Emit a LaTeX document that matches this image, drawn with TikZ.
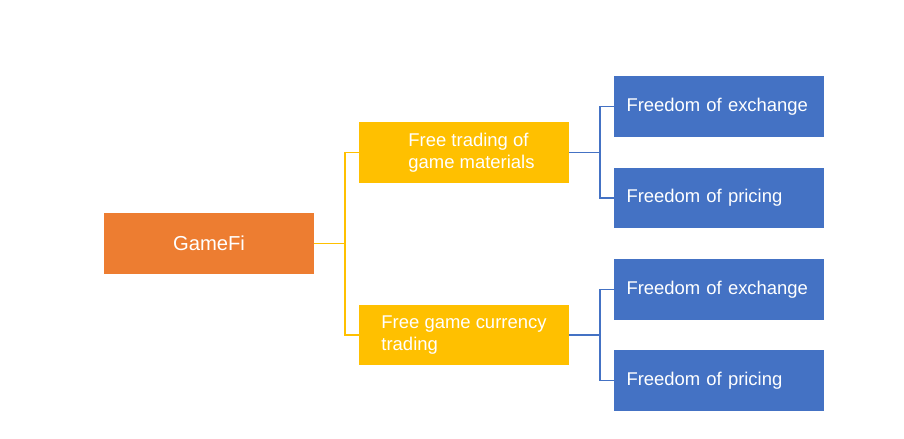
\documentclass[tikz,border=0pt]{standalone}
\usepackage{fontspec}
\setmainfont{Liberation Sans}
\definecolor{gfOrange}{HTML}{ED7D31}
\definecolor{gfYellow}{HTML}{FFC000}
\definecolor{gfBlue}{HTML}{4472C4}
\begin{document}
\begin{tikzpicture}[x=0.02cm,y=-0.02cm,
    box/.style={minimum width=4.2cm,minimum height=1.22cm,text=white,font=\fontsize{10.5}{12.5}\selectfont,inner sep=0pt},
    root/.style={box,fill=gfOrange,font=\fontsize{11.5}{13}\selectfont},
    mid/.style={box,fill=gfYellow,align=left},
    leaf/.style={box,fill=gfBlue,text width=3.7cm,align=left},
    ylink/.style={gfYellow,line width=0.7pt},
    blink/.style={gfBlue,line width=0.7pt}]
    \useasboundingbox (0,0) rectangle (904,439);

    \node[root] (game) at (209,243.5) {GameFi};

    \node[mid] (mat) at (464,152.5) {\hspace*{3mm}Free trading of\\\hspace*{3mm}game materials};
    \node[mid] (cur) at (464,335) {Free game currency\\trading};

    \node[leaf] (ex1) at (719,106.5) {Freedom of exchange};
    \node[leaf] (pr1) at (719,198) {Freedom of pricing};
    \node[leaf] (ex2) at (719,289.5) {Freedom of exchange};
    \node[leaf] (pr2) at (719,380.5) {Freedom of pricing};

    % connectors
    \coordinate (gj) at (345,243.5);
    \draw[ylink] (game.east) -- (gj);
    \draw[ylink] (gj) |- (mat.west);
    \draw[ylink] (gj) |- (cur.west);

    \coordinate (mj) at (600,152.5);
    \draw[blink] (mat.east) -- (mj);
    \draw[blink] (mj) |- (ex1.west);
    \draw[blink] (mj) |- (pr1.west);

    \coordinate (cj) at (600,335);
    \draw[blink] (cur.east) -- (cj);
    \draw[blink] (cj) |- (ex2.west);
    \draw[blink] (cj) |- (pr2.west);
\end{tikzpicture}
\end{document}
